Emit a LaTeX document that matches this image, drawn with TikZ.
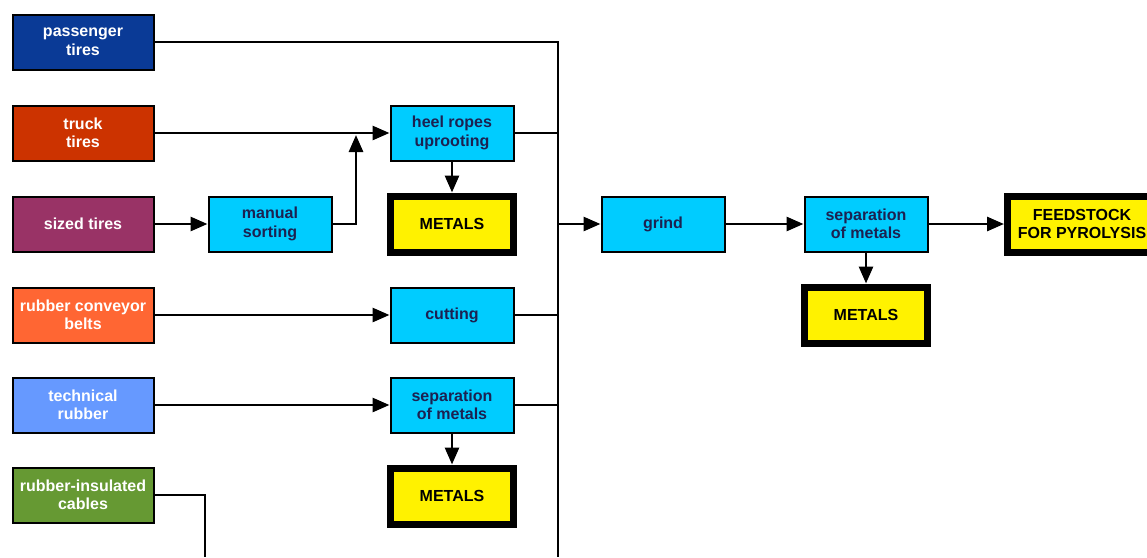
\documentclass[tikz,border=0pt]{standalone}
\usepackage{fontspec}
\setmainfont{Liberation Sans}
\usetikzlibrary{positioning,arrows.meta}

\definecolor{passblue}{HTML}{0A3A96}
\definecolor{truckred}{HTML}{CC3300}
\definecolor{sizedpurple}{HTML}{993366}
\definecolor{beltorange}{HTML}{FF6633}
\definecolor{techblue}{HTML}{6699FF}
\definecolor{cablegreen}{HTML}{669933}
\definecolor{procblue}{HTML}{00CCFF}
\definecolor{proctext}{HTML}{1C2151}

\begin{document}
\begin{tikzpicture}[
			x=1pt, y=-1pt
			,every node/.append style={draw, line width=2pt, align=center, inner sep=1pt,
				font=\bfseries\fontsize{16}{18.5}\selectfont, minimum width=141pt, minimum height=55pt}
			,src/.style={fill=#1, text=white}
			,proc/.style={fill=procblue, text=proctext, minimum width=123pt}
			,metalbox/.style={fill=yellow, line width=7pt, minimum width=123pt, minimum height=56pt}
			,flow/.style={line width=2.8pt, -{Triangle[length=17pt,width=14pt]}}
			,bus/.style={line width=2.8pt}
			,node distance=31pt
		]
			\useasboundingbox (0,0) rectangle (1147,557);

			% sources
			\node [src=passblue] (pass) at (83,42) {passenger\\tires};
			\node [src=truckred] (truck) at (83,133) {truck\\tires};
			\node [src=sizedpurple] (sized) at (83,224) {sized tires};
			\node [src=beltorange] (belt) at (83,315) {rubber conveyor\\belts};
			\node [src=techblue] (tech) at (83,405) {technical\\rubber};
			\node [src=cablegreen] (cable) at (83,495) {rubber-insulated\\cables};

			% first stage
			\node [proc] (sort) at (270,224) {manual\\sorting};
			\node [proc] (heel) at (452,133) {heel ropes\\uprooting};
			\node [metalbox, below=of heel] (metA) {METALS};
			\node [proc] (cut) at (452,315) {cutting};
			\node [proc] (sepA) at (452,405) {separation\\of metals};
			\node [metalbox, below=of sepA] (metB) {METALS};

			% second stage
			\node [proc] (grind) at (663,224) {grind};
			\node [proc] (sepB) at (866,224) {separation\\of metals};
			\node [metalbox, below=of sepB] (metC) {METALS};
			\node [metalbox, minimum width=149pt] (feed) at (1082,224) {FEEDSTOCK\\FOR PYROLYSIS};

			\coordinate (bustop) at (558,42);
			\coordinate (busend) at (558,557);
			\coordinate (cableend) at (205,557);
			\coordinate (junc) at (356,135);

			% connectors
			\draw [flow] (truck) -- (heel);
			\draw [flow] (sized) -- (sort);
			\draw [flow] (sort.east) -| (junc);
			\draw [flow] (heel) -- (metA);
			\draw [flow] (belt) -- (cut);
			\draw [flow] (tech) -- (sepA);
			\draw [flow] (sepA) -- (metB);
			\draw [bus] (cable.east) -| (cableend);

			\draw [bus] (pass.east) -- (bustop) -- (busend);
			\draw [bus] (heel.east) -- (heel.east -| bustop);
			\draw [bus] (cut.east) -- (cut.east -| bustop);
			\draw [bus] (sepA.east) -- (sepA.east -| bustop);
			\draw [flow] (grind.west -| bustop) -- (grind.west);

			\draw [flow] (grind) -- (sepB);
			\draw [flow] (sepB) -- (metC);
			\draw [flow] (sepB) -- (feed);
		\end{tikzpicture}
\end{document}
